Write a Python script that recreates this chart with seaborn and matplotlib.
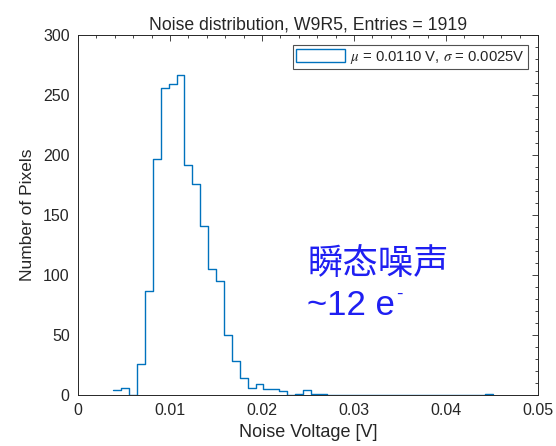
import numpy as np
import pandas as pd
import matplotlib
matplotlib.use("Agg")
import matplotlib.pyplot as plt
from matplotlib.patches import Patch
import seaborn as sns

# ---- data ----
bin_start = 0.00384
bin_width = 0.000859
counts = [4, 6, 0, 26, 87, 197, 256, 259, 267, 192, 176, 141, 105, 95, 50,
          28, 14, 6, 9, 5, 5, 3, 0, 1, 4, 1, 1, 0, 0, 0, 0, 0, 0, 0, 0, 0,
          0, 0, 0, 0, 0, 0, 0, 0, 0, 0, 0, 1]
title = "Noise distribution, W9R5, Entries = 1919"
legend_label = r"$\mu$ = 0.0110 V, $\sigma$ = 0.0025V"
xlabel = "Noise Voltage [V]"
ylabel = "Number of Pixels"
xticks = [0, 0.01, 0.02, 0.03, 0.04, 0.05]
xticklabels = ["0", "0.01", "0.02", "0.03", "0.04", "0.05"]
yticks = [0, 50, 100, 150, 200, 250, 300]
note_cn = "瞬态噪声"
note_e = "~12 e"
note_sup = "-"

edges = [float(e) for e in bin_start + bin_width * np.arange(len(counts) + 1)]
centers = [(edges[i] + edges[i + 1]) / 2 for i in range(len(counts))]
df = pd.DataFrame({"noise": centers, "n": [float(c) for c in counts]})

sns.set_theme(style="white")
plt.rcParams["font.family"] = ["Liberation Sans", "DejaVu Sans"]
plt.rcParams["mathtext.fontset"] = "stix"

line_color = "#0072BD"
axis_color = "#262626"
note_color = "#1f1ff2"

fig = plt.figure(figsize=(5.56, 4.46), dpi=100)
ax = fig.add_axes([78 / 556, 1 - 395 / 446, 460 / 556, 360 / 446])

sns.histplot(data=df, x="noise", weights="n", bins=edges, element="step",
             fill=False, color=line_color, linewidth=1.0, ax=ax)

ax.set_xlim(0, 0.05)
ax.set_ylim(0, 300)
ax.set_xticks(xticks)
ax.set_xticklabels(xticklabels)
ax.set_yticks(yticks)
ax.set_xticks(np.arange(0, 0.0501, 0.002), minor=True)
ax.set_yticks(np.arange(0, 301, 10), minor=True)
ax.tick_params(which="both", direction="in", top=True, right=True,
               colors=axis_color, labelsize=11.5, width=0.6)
ax.tick_params(which="major", length=4, pad=6)
ax.tick_params(which="minor", length=2)
for s in ax.spines.values():
    s.set_color(axis_color)
    s.set_linewidth(0.7)

ax.set_title(title, fontsize=12.7, color=axis_color, pad=4)
ax.set_xlabel(xlabel, fontsize=13, color=axis_color, labelpad=4)
ax.set_ylabel(ylabel, fontsize=12.5, color=axis_color, labelpad=6)

handle = Patch(facecolor="white", edgecolor=line_color, linewidth=1.0)
leg = ax.legend([handle], [legend_label], loc="upper right", fontsize=10.7,
                frameon=True, fancybox=False, edgecolor=axis_color,
                handlelength=3.3, handleheight=0.9, borderpad=0.22,
                handletextpad=0.3, borderaxespad=0.7)
leg.get_frame().set_linewidth(0.8)

ax.text(0.0249, 101, note_cn, fontsize=25.5, color=note_color,
        family=["Noto Sans CJK SC", "DejaVu Sans"], va="baseline")
t = ax.text(0.0249, 67, note_e, fontsize=25, color=note_color, va="baseline")
ax.annotate(note_sup, xy=(1, 1), xycoords=t, xytext=(1, -10),
            textcoords="offset points", fontsize=14, color=note_color,
            ha="left", va="bottom")

fig.savefig("out.png", dpi=100)
